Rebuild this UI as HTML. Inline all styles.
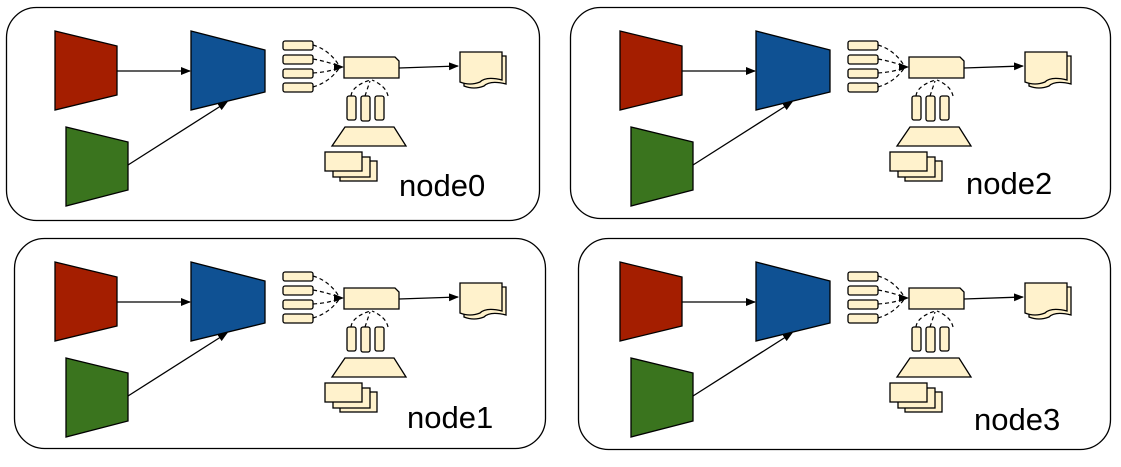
<!DOCTYPE html>
<html><head><meta charset="utf-8"><style>
html,body{margin:0;padding:0;background:#fff;width:1121px;height:467px;overflow:hidden}
</style></head><body>
<svg width="1121" height="467" viewBox="0 0 1121 467" xmlns="http://www.w3.org/2000/svg">
<defs>
<marker id="ah" markerWidth="10" markerHeight="8" refX="9" refY="4" orient="auto" markerUnits="userSpaceOnUse">
<path d="M0,0 L10,4 L0,8 z" fill="#000"/></marker>
<g id="n" stroke="#000" stroke-width="1.3">
<polygon points="55,31 117,46 117,95 55,110" fill="#a41e00"/>
<polygon points="191,31 265,50 265,92 191,110" fill="#0f5193"/>
<polygon points="66,127 128,142 128,190 66,206" fill="#3a741e"/>
<line x1="117" y1="71" x2="190" y2="71" marker-end="url(#ah)"/>
<line x1="128" y1="165" x2="227" y2="102" marker-end="url(#ah)"/>
<g fill="#fff2cc" stroke-width="1.3">
<rect x="283" y="41" width="30" height="9" rx="2"/>
<rect x="283" y="55" width="30" height="9" rx="2"/>
<rect x="283" y="69" width="30" height="9" rx="2"/>
<rect x="283" y="83" width="30" height="9" rx="2"/>
<path d="M344,57 H395 L399,61 V78 H344 Z"/>
<rect x="347" y="96" width="9" height="24" rx="2"/>
<rect x="361" y="96" width="9" height="25" rx="2"/>
<rect x="375" y="96" width="9" height="24" rx="2"/>
<polygon points="345,127 394,127 406,146 332,146"/>
<rect x="340" y="161" width="37" height="20"/>
<rect x="333" y="157" width="37" height="20"/>
<rect x="325" y="152" width="37" height="19"/>
<path d="M464,56 H506 V84 Q490,80 484,86 Q474,90 464,86 Z"/>
<path d="M460,52 H502 V80 Q486,76 480,82 Q470,86 460,82 Z"/>
</g>
<g fill="none" stroke-dasharray="4,3" stroke-width="1.2">
<path d="M313,45 Q330,50 340,67"/>
<path d="M313,59 Q330,62 340,67"/>
<path d="M313,73 Q330,72 340,67"/>
<path d="M313,87 Q330,82 340,67"/>
<path d="M351,96 Q352,86 370,80"/>
<path d="M388,96 Q386,86 372,80"/>
<line x1="365" y1="96" x2="370" y2="81"/>
</g>
<line x1="399" y1="68" x2="458" y2="66" marker-end="url(#ah)"/>
<path d="M336,67 L343,67" stroke-width="1" marker-end="url(#ah)"/>
</g>
</defs>
<g fill="none" stroke="#000" stroke-width="1.3">
<rect x="6.5" y="7.5" width="533" height="213" rx="30"/>
<rect x="570.5" y="7.5" width="540" height="211" rx="30"/>
<rect x="14.5" y="238.5" width="531" height="210" rx="30"/>
<rect x="578.5" y="238.5" width="532" height="211" rx="30"/>
</g>
<use href="#n"/>
<use href="#n" transform="translate(0,231)"/>
<use href="#n" transform="translate(565,0)"/>
<use href="#n" transform="translate(565,231)"/>
<g font-family="Liberation Sans, sans-serif" font-size="31" fill="#000">
<text x="399" y="196">node0</text>
<text x="966" y="194">node2</text>
<text x="407" y="428">node1</text>
<text x="974" y="430">node3</text>
</g>
</svg>
</body></html>
